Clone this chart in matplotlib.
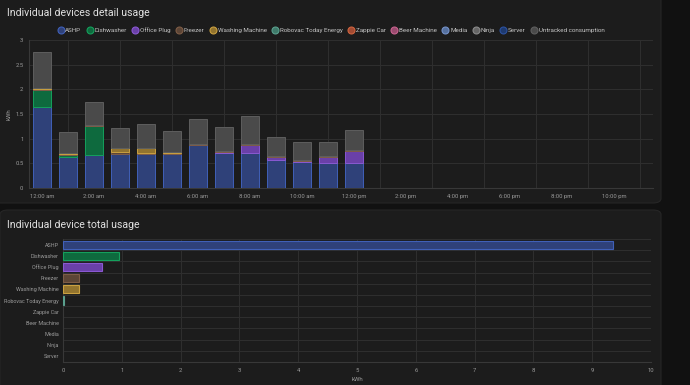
import matplotlib.pyplot as plt
from matplotlib.patches import FancyBboxPatch
from matplotlib.lines import Line2D

plt.rcParams['font.family'] = ['Roboto', 'DejaVu Sans']

# hourly usage (kWh), 12:00 am .. 12:00 pm
hours = list(range(13))
ashp = [1.65, 0.62, 0.67, 0.68, 0.68, 0.68, 0.87, 0.70, 0.70, 0.56, 0.53, 0.50, 0.50]
dishwasher = [0.34, 0.04, 0.59, 0, 0, 0, 0, 0, 0, 0, 0, 0, 0]
office_plug = [0, 0, 0, 0, 0, 0, 0, 0.02, 0.18, 0.06, 0.01, 0.12, 0.26]
freezer = [0.02, 0.02, 0.02, 0.04, 0.02, 0.02, 0.03, 0.02, 0.02, 0.02, 0.02, 0.02, 0.02]
washing = [0.02, 0.02, 0, 0.09, 0.12, 0.03, 0, 0, 0, 0, 0, 0, 0]
robovac = [0, 0.01, 0, 0, 0, 0, 0, 0, 0, 0, 0, 0.01, 0]
untracked = [0.72, 0.43, 0.46, 0.41, 0.47, 0.43, 0.50, 0.50, 0.55, 0.39, 0.37, 0.28, 0.40]

tick_labels = ["12:00 am", "2:00 am", "4:00 am", "6:00 am", "8:00 am", "10:00 am",
               "12:00 pm", "2:00 pm", "4:00 pm", "6:00 pm", "8:00 pm", "10:00 pm"]

devices = ["ASHP", "Dishwasher", "Office Plug", "Freezer", "Washing Machine",
           "Robovac Today Energy", "Zappie Car", "Beer Machine", "Media", "Ninja", "Server"]
totals = [9.35, 0.96, 0.66, 0.28, 0.27, 0.02, 0, 0, 0, 0, 0]

legend_names = devices + ["Untracked consumption"]

# (fill, edge) per series
colors = {
    "ASHP": ("#2f4179", "#4060b8"),
    "Dishwasher": ("#0e6a3e", "#14a05c"),
    "Office Plug": ("#6a40a8", "#8a58d2"),
    "Freezer": ("#5c4536", "#7e5c46"),
    "Washing Machine": ("#93742e", "#caa040"),
    "Robovac Today Energy": ("#3f7a6a", "#5aa08e"),
    "Zappie Car": ("#a24a32", "#d0643f"),
    "Beer Machine": ("#9a4a6e", "#c8648f"),
    "Media": ("#55709e", "#7491c8"),
    "Ninja": ("#666666", "#8a8a8a"),
    "Server": ("#1e3a70", "#2c52a0"),
    "Untracked consumption": ("#4a4a4a", "#5e5e5e"),
}

W, H = 690, 385
fig = plt.figure(figsize=(6.9, 3.85), dpi=100, facecolor="#111111")

# cards
for (x0, y0, x1, y1) in [(-10, -20, 661, 203), (0, 210, 661, 400)]:
    fig.patches.append(FancyBboxPatch((x0 / W, 1 - y1 / H), (x1 - x0) / W, (y1 - y0) / H,
                                      boxstyle="round,pad=0,rounding_size=0.012",
                                      transform=fig.transFigure, facecolor="#1c1c1c",
                                      edgecolor="#262626", lw=0.8, zorder=-5))

fig.text(7 / W, 1 - 13 / H, "Individual devices detail usage", color="#e1e1e1",
         fontsize=7.6, va="center", ha="left")
fig.text(7 / W, 1 - 225 / H, "Individual device total usage", color="#e1e1e1",
         fontsize=7.6, va="center", ha="left")

grid_c = "#2e2e2e"
tick_c = "#9a9a9a"

# ---- top stacked chart
ax = fig.add_axes([29 / W, 1 - 188 / H, (653 - 29) / W, (188 - 40) / H])
ax.set_facecolor("none")
series = [("ASHP", ashp), ("Dishwasher", dishwasher), ("Office Plug", office_plug),
          ("Freezer", freezer), ("Washing Machine", washing),
          ("Robovac Today Energy", robovac), ("Untracked consumption", untracked)]
bottom = [0] * len(hours)
for name, vals in series:
    fc, ec = colors[name]
    ax.bar(hours, vals, width=0.73, bottom=bottom, color=fc, edgecolor=ec, linewidth=0.7, zorder=3)
    bottom = [b + v for b, v in zip(bottom, vals)]

ax.set_xlim(-0.5, 23.5)
ax.set_ylim(0, 3)
ax.set_xticks(range(0, 24, 2))
ax.set_xticklabels(tick_labels)
ax.set_xticks(range(1, 24, 2), minor=True)
ax.set_yticks([0, 0.5, 1, 1.5, 2, 2.5, 3])
ax.set_yticklabels(["0", "0.5", "1", "1.5", "2", "2.5", "3"])
ax.grid(True, which="minor", axis="x", color=grid_c, lw=0.8, zorder=0)
ax.grid(True, which="major", axis="y", color=grid_c, lw=0.8, zorder=0)
ax.tick_params(which="both", length=0, labelsize=4.2, colors=tick_c, pad=4)
for s in ["top", "right"]:
    ax.spines[s].set_visible(False)
for s in ["left", "bottom"]:
    ax.spines[s].set_color("#383838")
    ax.spines[s].set_linewidth(0.8)
ax.set_ylabel("kWh", fontsize=4.4, color=tick_c, labelpad=3)

handles = [Line2D([], [], marker="o", ls="none", markersize=5,
                  markerfacecolor=colors[n][0], markeredgecolor=colors[n][1], markeredgewidth=0.8)
           for n in legend_names]
fig.legend(handles, legend_names, loc="center", bbox_to_anchor=(331 / W, 1 - 30 / H),
           ncol=len(legend_names), frameon=False, fontsize=4.5, labelcolor="#c4c4c4",
           handletextpad=0.25, columnspacing=0.85, handlelength=1.0, borderaxespad=0)

# ---- bottom horizontal chart
ax2 = fig.add_axes([63 / W, 1 - 362 / H, (651 - 63) / W, (362 - 239) / H])
ax2.set_facecolor("none")
ypos = list(range(len(devices)))
for i, (name, val) in enumerate(zip(devices, totals)):
    if val > 0:
        fc, ec = colors[name]
        ax2.barh(i, val, height=0.72, color=fc, edgecolor=ec, linewidth=0.8, zorder=3)
ax2.set_ylim(len(devices) - 0.5, -0.5)
ax2.set_xlim(0, 10)
ax2.set_yticks(ypos)
ax2.set_yticklabels(devices)
ax2.set_yticks([k + 0.5 for k in range(-1, len(devices))], minor=True)
ax2.set_xticks(range(0, 11))
ax2.grid(True, which="minor", axis="y", color=grid_c, lw=0.8, zorder=0)
ax2.grid(True, which="major", axis="x", color=grid_c, lw=0.8, zorder=0)
ax2.tick_params(which="both", length=0, labelsize=4.2, colors=tick_c, pad=4)
ax2.tick_params(axis="y", labelsize=3.9, pad=3)
for s in ["top", "right"]:
    ax2.spines[s].set_visible(False)
for s in ["left", "bottom"]:
    ax2.spines[s].set_color("#383838")
    ax2.spines[s].set_linewidth(0.8)
ax2.set_xlabel("kWh", fontsize=4.4, color=tick_c, labelpad=3)

fig.savefig("out.png", dpi=100, facecolor=fig.get_facecolor())
